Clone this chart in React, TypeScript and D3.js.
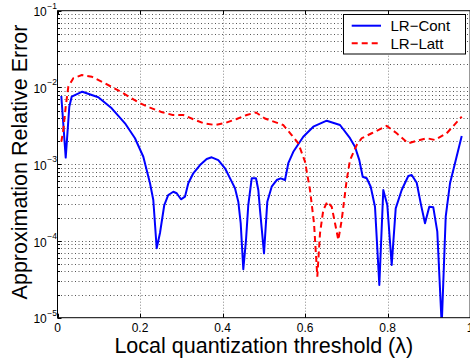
import React from "react";
import * as d3 from "d3";

const contX = [0.0092,0.0199,0.0286,0.0344,0.0601,0.0989,0.1314,0.1636,0.1878,0.208,0.2242,0.2322,0.2404,0.2484,0.2588,0.2685,0.2807,0.2889,0.2993,0.309,0.317,0.3291,0.3454,0.3616,0.3737,0.3897,0.406,0.4222,0.4302,0.4382,0.444,0.4503,0.4569,0.4624,0.4707,0.4811,0.4867,0.4908,0.5005,0.5085,0.5191,0.5313,0.541,0.5514,0.5594,0.5715,0.5957,0.62,0.6525,0.6847,0.7089,0.721,0.7315,0.7397,0.7494,0.7591,0.7695,0.78,0.7896,0.7993,0.81,0.8197,0.8342,0.8502,0.8585,0.8706,0.8803,0.8907,0.9011,0.9108,0.9205,0.9312,0.9409,0.9513,0.9634,0.9797];
const contY = [7.74e-3,1.22e-3,5.61e-3,7.58e-3,8.8e-3,7.45e-3,5.35e-3,3.41e-3,2.18e-3,1.25e-3,5.64e-4,3.42e-4,8.02e-5,1.27e-4,2.94e-4,3.97e-4,4.38e-4,4.18e-4,3.49e-4,3.77e-4,5.64e-4,7.61e-4,9.76e-4,1.17e-3,1.23e-3,1.13e-3,8.84e-4,5.92e-4,4.85e-4,3.25e-4,1.7e-4,4.27e-5,1.03e-4,2.94e-4,6.55e-4,6.55e-4,4.61e-4,2.53e-4,6.9e-5,3.25e-4,5.09e-4,6.22e-4,6.55e-4,6.22e-4,1.03e-3,1.45e-3,2.28e-3,3.08e-3,3.69e-3,3.24e-3,2.18e-3,1.69e-3,1.13e-3,6.87e-4,6.55e-4,5.09e-4,2.79e-4,2.67e-5,4.61e-4,2.94e-4,4.86e-5,2.66e-4,4.61e-4,7.02e-4,7.23e-4,5.74e-4,3.09e-4,1.7e-4,2.79e-4,2.74e-4,1.32e-4,8e-6,2.07e-4,5.64e-4,1.03e-3,2.33e-3];

const lattX = [0.0092,0.0141,0.0199,0.0262,0.0383,0.0587,0.0829,0.1151,0.1556,0.1958,0.2242,0.254,0.2792,0.3049,0.3291,0.3551,0.3817,0.4084,0.4343,0.4586,0.4811,0.5029,0.5473,0.5676,0.5836,0.5999,0.612,0.6217,0.6297,0.6362,0.6442,0.6539,0.6646,0.6726,0.6806,0.6888,0.7009,0.7089,0.7252,0.7373,0.7615,0.7979,0.8221,0.8502,0.8706,0.8948,0.9149,0.9433,0.9797];
const lattY = [1.96e-3,2.79e-3,5.61e-3,1.02e-2,1.32e-2,1.45e-2,1.38e-2,1.13e-2,8.65e-3,6.4e-3,5.45e-3,4.74e-3,4.38e-3,4.38e-3,3.85e-3,3.41e-3,3.24e-3,3.47e-3,3.88e-3,4.38e-3,4.72e-3,3.94e-3,3.24e-3,2.4e-3,1.87e-3,1.08e-3,4.61e-4,1.7e-4,3.42e-5,1.26e-4,2.53e-4,3.25e-4,2.79e-4,1.7e-4,1.03e-4,1.87e-4,6.22e-4,1.13e-3,1.78e-3,2.18e-3,2.53e-3,3.15e-3,2.53e-3,1.87e-3,2.02e-3,2.18e-3,2.07e-3,2.53e-3,4.16e-3];

const xTicks = [0, 0.2, 0.4, 0.6, 0.8, 1];
const xTickLabels = ["0", "0.2", "0.4", "0.6", "0.8", "1"];
const yExponents = [-5, -4, -3, -2, -1];
const seriesNames = ["LR\u2212Cont", "LR\u2212Latt"];
const xLabel = "Local quantization threshold (\u03bb)";
const yLabel = "Approximation Relative Error";

const W = 470, H = 361;
const L = 57.5, R = 470.1, T = 10.7, B = 317.7;

export default function App() {
  const x = d3.scaleLinear().domain([0, 1]).range([L, R]);
  const y = d3.scaleLog().domain([1e-5, 1e-1]).range([B, T]);
  const line = d3.line<[number, number]>().x(d => x(d[0])).y(d => y(d[1]));
  const cont = contX.map((v, i) => [v, contY[i]] as [number, number]);
  const latt = lattX.map((v, i) => [v, lattY[i]] as [number, number]);

  const minor: number[] = [];
  for (let e = -5; e < -1; e++) for (let k = 2; k <= 9; k++) minor.push(k * Math.pow(10, e));
  const font = "'Liberation Sans', Arial, Helvetica, sans-serif";
  const grid = { stroke: "#555", strokeWidth: 1, strokeDasharray: "1 2.5", fill: "none" };
  const gridV = { stroke: "#888", strokeWidth: 1, strokeDasharray: "1 2", fill: "none" };

  return (
    <svg width={W} height={H} style={{ position: "absolute", left: 0, top: 0, background: "#fff" }} fontFamily={font}>
      <defs>
        <clipPath id="plot"><rect x={L} y={T} width={R - L} height={B - T} /></clipPath>
      </defs>
      <rect x={0} y={0} width={W} height={H} fill="#fff" />
      {xTicks.slice(1, -1).map(t => (
        <line key={"gx" + t} x1={Math.round(x(t)) + 0.5} x2={Math.round(x(t)) + 0.5} y1={T} y2={B} {...gridV} />
      ))}
      {yExponents.slice(1, -1).map(e => {
        const yy = Math.round(y(Math.pow(10, e))) + 0.5;
        return <line key={"gy" + e} x1={L} x2={R} y1={yy} y2={yy} {...grid} />;
      })}
      {minor.map(v => {
        const yy = Math.round(y(v)) + 0.5;
        return <line key={"gm" + v} x1={L} x2={R} y1={yy} y2={yy} {...grid} />;
      })}
      {xTicks.map(t => (
        <g key={"tx" + t}>
          <line x1={Math.round(x(t)) + 0.5} x2={Math.round(x(t)) + 0.5} y1={B} y2={B - 4} stroke="#000" />
          <line x1={Math.round(x(t)) + 0.5} x2={Math.round(x(t)) + 0.5} y1={T} y2={T + 4} stroke="#000" />
        </g>
      ))}
      {yExponents.map(e => {
        const yy = Math.round(y(Math.pow(10, e))) + 0.5;
        return <line key={"ty" + e} x1={L} x2={L + 4} y1={yy} y2={yy} stroke="#000" />;
      })}
      {minor.map(v => {
        const yy = Math.round(y(v)) + 0.5;
        return <line key={"tm" + v} x1={L} x2={L + 2.5} y1={yy} y2={yy} stroke="#000" />;
      })}
      <g clipPath="url(#plot)">
        <path d={line(cont) || ""} fill="none" stroke="#0000ff" strokeWidth={2} strokeLinejoin="round" />
        <path d={line(latt) || ""} fill="none" stroke="#ff0000" strokeWidth={2} strokeDasharray="6 4" />
      </g>
      <rect x={L} y={T} width={R - L} height={B - T} fill="none" stroke="#000" strokeWidth={1} />
      {xTicks.map((t, i) => (
        <text key={"lx" + t} x={x(t)} y={332} fontSize={12} textAnchor="middle">{xTickLabels[i]}</text>
      ))}
      {yExponents.map(e => {
        const yy = y(Math.pow(10, e));
        return (
          <g key={"ly" + e}>
            <text x={46.8} y={yy + 5.6} fontSize={12} textAnchor="end">10</text>
            <text x={47.3} y={yy - 2.2} fontSize={8.5}>{"\u2212" + Math.abs(e)}</text>
          </g>
        );
      })}
      <text x={(L + R) / 2} y={353} fontSize={21.5} textAnchor="middle">{xLabel}</text>
      <text transform={`translate(27,${162}) rotate(-90)`} fontSize={21.5} textAnchor="middle">{yLabel}</text>
      <rect x={343.5} y={14.5} width={122} height={39.5} fill="#fff" stroke="#000" strokeWidth={1} />
      <line x1={351.7} x2={381} y1={25.7} y2={25.7} stroke="#0000ff" strokeWidth={2} />
      <line x1={351.7} x2={381} y1={43.3} y2={43.3} stroke="#ff0000" strokeWidth={2} strokeDasharray="6 4" />
      <text x={390.5} y={31} fontSize={15}>{seriesNames[0]}</text>
      <text x={390.5} y={48.7} fontSize={15}>{seriesNames[1]}</text>
    </svg>
  );
}
